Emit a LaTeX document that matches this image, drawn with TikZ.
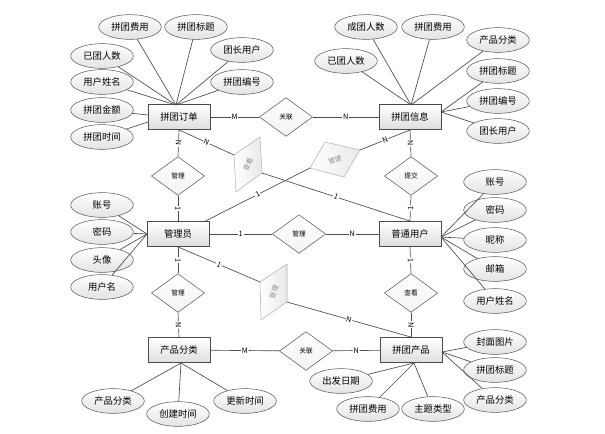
\documentclass[tikz,border=0pt]{standalone}
\usepackage{fontspec}
\setmainfont{Noto Sans CJK SC}
\usetikzlibrary{shapes.geometric}
\begin{document}
\begin{tikzpicture}[x=0.75pt,y=-0.75pt,
  ent/.style={draw=black!70, top color=white, bottom color=black!13, minimum width=46.5pt, minimum height=19pt, inner sep=0pt, font=\fontsize{7}{8}\selectfont},
  attr/.style={ellipse, draw=black!65, top color=white, bottom color=black!11, minimum width=47pt, minimum height=18.5pt, inner sep=0pt, font=\fontsize{7}{8}\selectfont},
  rel/.style={diamond, draw=black!65, top color=white, bottom color=black!5, minimum width=40pt, minimum height=29pt, inner sep=0pt, font=\fontsize{5}{6}\selectfont},
  tilt/.style={draw=black!30, left color=white, right color=black!9},
  tiltlbl/.style={font=\fontsize{5}{6}\selectfont, text=black!45, inner sep=0pt},
  card/.style={fill=white, inner sep=0.6pt, font=\fontsize{5.5}{6}\selectfont, sloped},
  ln/.style={draw=black!70, line width=0.5pt}]
\path[use as bounding box] (0,0) rectangle (605,433);

% entities
\node[ent] (dd) at (179,117) {拼团订单};
\node[ent] (xx) at (410,117) {拼团信息};
\node[ent] (gly) at (178,234) {管理员};
\node[ent] (yh) at (410,234) {普通用户};
\node[ent] (fl) at (179,350) {产品分类};
\node[ent] (cp) at (411,350) {拼团产品};

% relationships
\node[rel] (r1) at (286,117) {关联};
\node[rel] (r2) at (178,176) {管理};
\node[rel] (r3) at (411,176) {提交};
\node[rel] (r4) at (299,234) {管理};
\node[rel] (r5) at (178,293) {管理};
\node[rel] (r6) at (411,293) {查看};
\node[rel] (r7) at (306,351) {关联};

% tilted relationships
\coordinate (t1a) at (234,155); \coordinate (t1b) at (260,137);
\coordinate (t1c) at (262,173); \coordinate (t1d) at (236,192);
\draw[tilt] (t1a) -- (t1b) -- (t1c) -- (t1d) -- cycle;
\node[tiltlbl, rotate=65] (t1) at (248,164) {查看};

\coordinate (t2a) at (310,168); \coordinate (t2b) at (325,142);
\coordinate (t2c) at (360,150); \coordinate (t2d) at (344,177);
\draw[tilt] (t2a) -- (t2b) -- (t2c) -- (t2d) -- cycle;
\node[tiltlbl, rotate=20] (t2) at (335,160) {管理};

\coordinate (t3a) at (260,282); \coordinate (t3b) at (287,264);
\coordinate (t3c) at (287,302); \coordinate (t3d) at (261,320);
\draw[tilt] (t3a) -- (t3b) -- (t3c) -- (t3d) -- cycle;
\node[tiltlbl, rotate=70] (t3) at (274,292) {管理};

% relationship connectors
\draw[ln] (dd) -- node[card]{M} (r1);
\draw[ln] (r1) -- node[card]{N} (xx);
\draw[ln] (dd.south) -- node[card]{N} (r2.north);
\draw[ln] (r2.south) -- node[card]{1} (gly.north);
\draw[ln] (xx.south) -- node[card]{N} (r3.north);
\draw[ln] (r3.south) -- node[card]{1} (yh.north);
\draw[ln] (gly) -- node[card]{1} (r4);
\draw[ln] (r4) -- node[card]{N} (yh);
\draw[ln] (gly.south) -- node[card]{1} (r5.north);
\draw[ln] (r5.south) -- node[card]{N} (fl.north);
\draw[ln] (yh.south) -- node[card]{1} (r6.north);
\draw[ln] (r6.south) -- node[card]{N} (cp.north);
\draw[ln] (fl) -- node[card]{M} (r7);
\draw[ln] (r7) -- node[card]{N} (cp);

\draw[ln] (dd.south) -- node[card]{N} (t1a);
\draw[ln] (t1c) -- node[card]{1} (yh.north);
\draw[ln] ([xshift=-3pt]gly.north east) -- node[card]{1} (t2a);
\draw[ln] (t2c) -- node[card]{N} (xx.south);
\draw[ln] (gly.south) -- node[card]{1} (t3a);
\draw[ln] (t3c) -- node[card]{N} (cp.north);

% hubs
\coordinate (h1) at (176,105);
\coordinate (h1a) at (148,115);
\coordinate (h1b) at (148,122);
\coordinate (h2) at (411,105);
\coordinate (h2r) at (441,112);
\coordinate (h3) at (147,234);
\coordinate (h4) at (441,237);
\coordinate (h5) at (181,363);
\coordinate (h6) at (442,352);
\coordinate (h6b) at (414,363);

% attributes of 拼团订单
\node[attr] (a1) at (130,27) {拼团费用};
\node[attr] (a2) at (196,27) {拼团标题};
\node[attr] (a3) at (242,50) {团长用户};
\node[attr] (a4) at (242,82) {拼团编号};
\node[attr] (a5) at (102,56) {已团人数};
\node[attr] (a6) at (102,82) {用户姓名};
\node[attr] (a7) at (102,110) {拼团金额};
\node[attr] (a8) at (102,137) {拼团时间};
\foreach \a in {a1,a2,a3,a4,a5,a6} \draw[ln] (\a) -- (h1);
\draw[ln] (a7) -- (h1a);
\draw[ln] (a8) -- (h1b);

% attributes of 拼团信息
\node[attr] (b1) at (366,27) {成团人数};
\node[attr] (b2) at (433,27) {拼团费用};
\node[attr] (b3) at (498,40) {产品分类};
\node[attr] (b4) at (346,61) {已团人数};
\node[attr] (b5) at (498,71) {拼团标题};
\node[attr] (b6) at (498,101) {拼团编号};
\node[attr] (b7) at (498,131) {团长用户};
\foreach \a in {b1,b2,b3,b4} \draw[ln] (\a) -- (h2);
\foreach \a in {b5,b6,b7} \draw[ln] (\a) -- (h2r);

% attributes of 管理员
\node[attr] (c1) at (102,205) {账号};
\node[attr] (c2) at (102,232) {密码};
\node[attr] (c3) at (102,260) {头像};
\node[attr] (c4) at (102,287) {用户名};
\foreach \a in {c1,c2,c3,c4} \draw[ln] (\a) -- (h3);

% attributes of 普通用户
\node[attr] (d1) at (495,182) {账号};
\node[attr] (d2) at (495,210) {密码};
\node[attr] (d3) at (495,240) {昵称};
\node[attr] (d4) at (495,269) {邮箱};
\node[attr] (d5) at (495,301) {用户姓名};
\foreach \a in {d1,d2,d3,d4,d5} \draw[ln] (\a) -- (h4);

% attributes of 产品分类
\node[attr] (e1) at (113,401) {产品分类};
\node[attr] (e2) at (178,414) {创建时间};
\node[attr] (e3) at (245,401) {更新时间};
\foreach \a in {e1,e2,e3} \draw[ln] (\a) -- (h5);

% attributes of 拼团产品
\node[attr] (f1) at (495,342) {封面图片};
\node[attr] (f2) at (495,370) {拼团标题};
\node[attr] (f3) at (495,400) {产品分类};
\node[attr] (f4) at (341,381) {出发日期};
\node[attr] (f5) at (368,409) {拼团费用};
\node[attr] (f6) at (433,409) {主题类型};
\foreach \a in {f1,f2,f3} \draw[ln] (\a) -- (h6);
\foreach \a in {f4,f5,f6} \draw[ln] (\a) -- (h6b);
\end{tikzpicture}
\end{document}
